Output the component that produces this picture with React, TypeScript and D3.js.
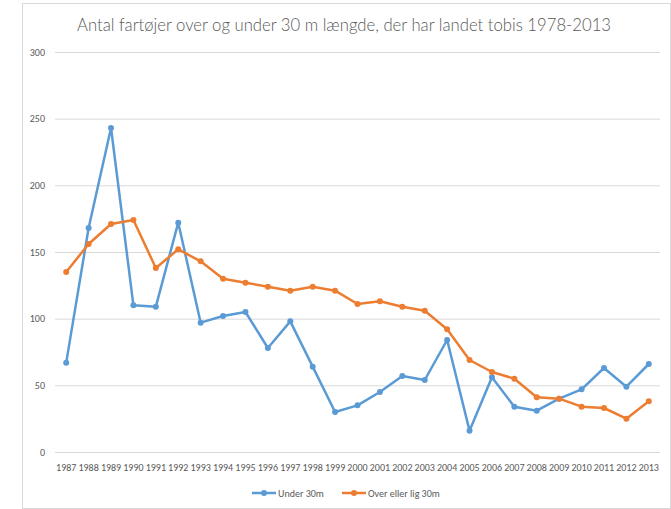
import React, { useEffect, useRef } from 'react';
import * as d3 from 'd3';

const years = [
  '1987', '1988', '1989', '1990', '1991', '1992', '1993', '1994', '1995',
  '1996', '1997', '1998', '1999', '2000', '2001', '2002', '2003', '2004',
  '2005', '2006', '2007', '2008', '2009', '2010', '2011', '2012', '2013',
];
const under30 = [
  67, 168, 243, 110, 109, 172, 97, 102, 105, 78, 98, 64, 30, 35, 45, 57,
  54, 84, 16, 56, 34, 31, 40, 47, 63, 49, 66,
];
const over30 = [
  135, 156, 171, 174, 138, 152, 143, 130, 127, 124, 121, 124, 121, 111, 113,
  109, 106, 92, 69, 60, 55, 41, 40, 34, 33, 25, 38,
];
const yTicks = [0, 50, 100, 150, 200, 250, 300];
const seriesNames = ['Under 30m', 'Over eller lig 30m'];
const title = 'Antal fartøjer over og under 30 m længde, der har landet tobis 1978-2013';

const W = 671;
const H = 509;
const font = "Carlito, 'Liberation Sans', Arial, sans-serif";

const App: React.FC = () => {
  const svgRef = useRef<SVGSVGElement | null>(null);

  useEffect(() => {
    if (!svgRef.current) return;
    const svg = d3.select(svgRef.current);
    svg.selectAll('*').remove();

    const margin = { top: 52, right: 11, bottom: 57, left: 55 };

    // chart frame
    svg.append('rect')
      .attr('x', 22.5).attr('y', 3.5)
      .attr('width', W - 23).attr('height', H - 4)
      .attr('fill', 'white')
      .attr('stroke', '#d9d9d9');

    const x = d3.scaleBand<string>()
      .domain(years)
      .range([margin.left, W - margin.right]);

    const y = d3.scaleLinear()
      .domain([0, 300])
      .range([H - margin.bottom, margin.top]);

    // gridlines
    svg.append('g')
      .selectAll('line')
      .data(yTicks)
      .join('line')
      .attr('x1', margin.left)
      .attr('x2', W - margin.right)
      .attr('y1', (d) => y(d) + 0.5)
      .attr('y2', (d) => y(d) + 0.5)
      .attr('stroke', '#d9d9d9')
      .attr('stroke-width', 1);

    // y labels
    svg.append('g')
      .selectAll('text')
      .data(yTicks)
      .join('text')
      .attr('x', 45)
      .attr('y', (d) => y(d) + 3.5)
      .attr('text-anchor', 'end')
      .style('font-family', font)
      .style('font-size', '10px')
      .style('fill', '#595959')
      .text((d) => d);

    // x labels
    svg.append('g')
      .selectAll('text')
      .data(years)
      .join('text')
      .attr('x', (d) => (x(d) as number) + x.bandwidth() / 2)
      .attr('y', 471)
      .attr('text-anchor', 'middle')
      .style('font-family', font)
      .style('font-size', '10px')
      .style('fill', '#595959')
      .text((d) => d);

    const cx = (i: number) => (x(years[i]) as number) + x.bandwidth() / 2;
    const line = d3.line<number>()
      .x((_, i) => cx(i))
      .y((d) => y(d));

    const series = [
      { name: seriesNames[0], values: under30, color: '#5b9bd5' },
      { name: seriesNames[1], values: over30, color: '#ed7d31' },
    ];

    series.forEach((s) => {
      svg.append('path')
        .datum(s.values)
        .attr('fill', 'none')
        .attr('stroke', s.color)
        .attr('stroke-width', 2.5)
        .attr('stroke-linejoin', 'round')
        .attr('d', line);
      svg.append('g')
        .selectAll('circle')
        .data(s.values)
        .join('circle')
        .attr('cx', (_, i) => cx(i))
        .attr('cy', (d) => y(d))
        .attr('r', 3)
        .attr('fill', s.color);
    });

    // legend
    const legend = svg.append('g');
    const legendX = [252, 342];
    series.forEach((s, i) => {
      const g = legend.append('g').attr('transform', `translate(${legendX[i]},493)`);
      g.append('line')
        .attr('x1', 0).attr('x2', 24)
        .attr('stroke', s.color).attr('stroke-width', 2.5);
      g.append('circle').attr('cx', 12).attr('r', 3).attr('fill', s.color);
      g.append('text')
        .attr('x', 26).attr('y', 3.5)
        .style('font-family', font)
        .style('font-size', '10px')
        .style('fill', '#595959')
        .text(s.name);
    });

    // title
    svg.append('text')
      .attr('x', 344)
      .attr('y', 31)
      .attr('text-anchor', 'middle')
      .attr('textLength', 534)
      .attr('lengthAdjust', 'spacingAndGlyphs')
      .style('font-family', "Lato, Carlito, sans-serif")
      .style('font-weight', 300)
      .style('font-size', '18px')
      .style('fill', '#595959')
      .text(title);
  }, []);

  return (
    <svg
      ref={svgRef}
      width={W}
      height={H}
      style={{ position: 'absolute', left: 0, top: 0, background: 'white' }}
    />
  );
};

export default App;
